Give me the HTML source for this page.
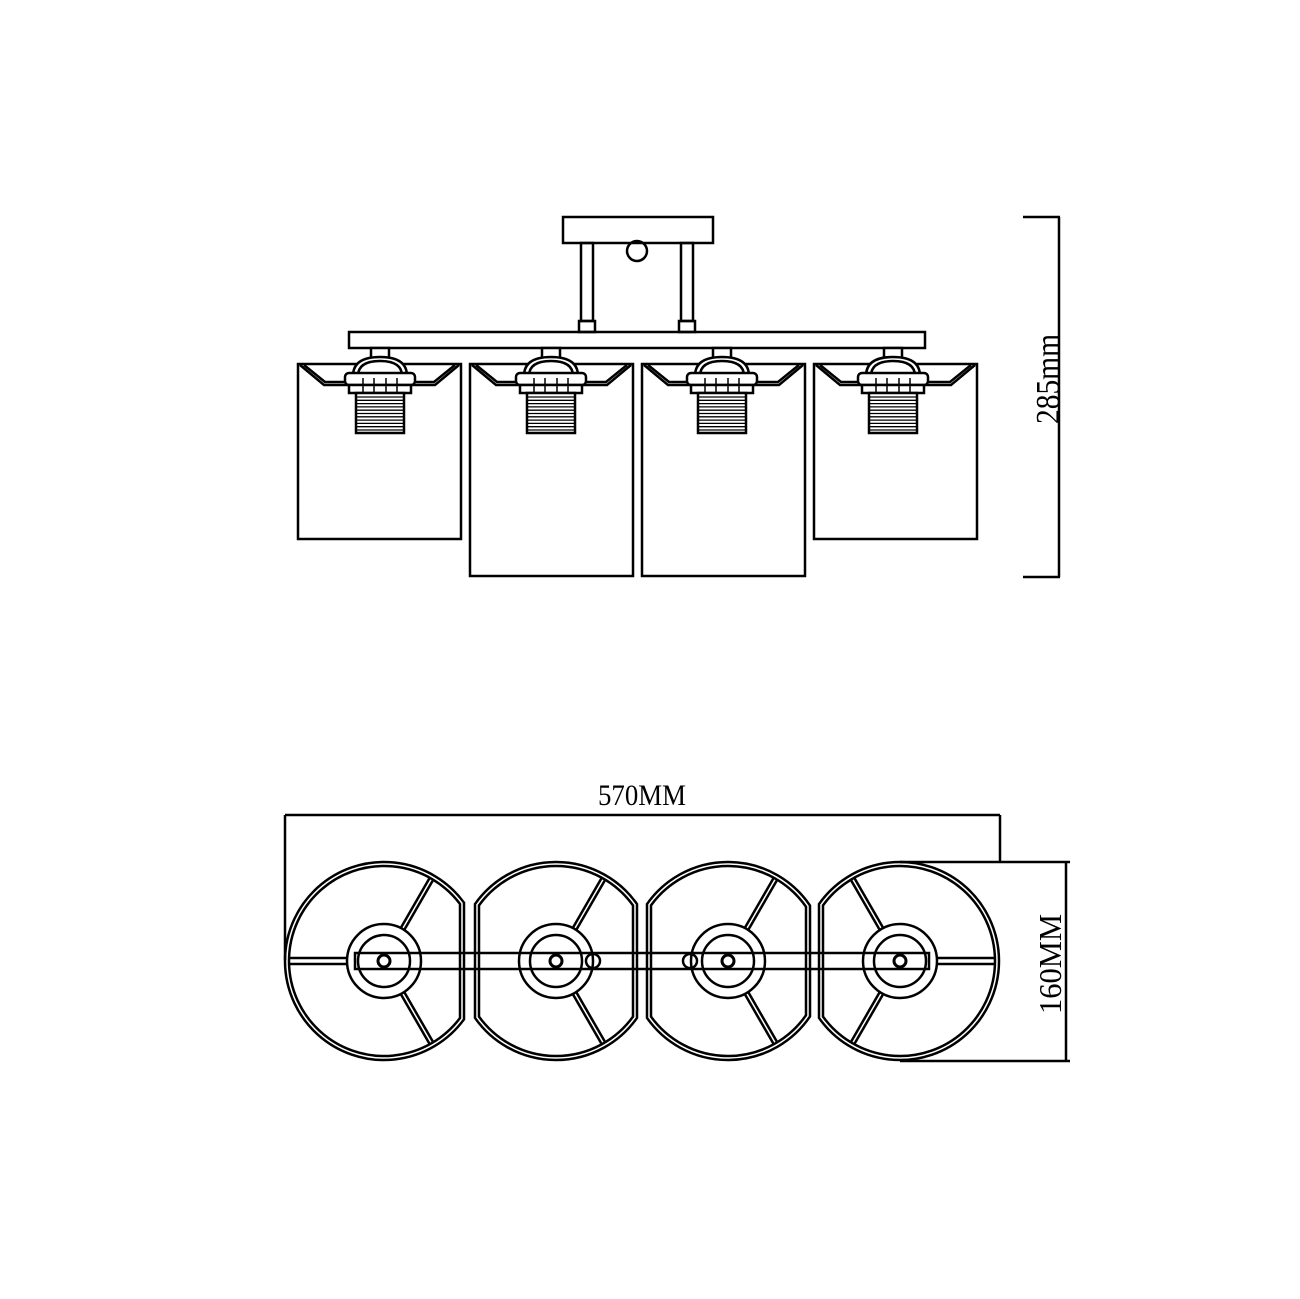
<!DOCTYPE html>
<html><head><meta charset="utf-8"><style>
html,body{margin:0;padding:0;background:#fff}
svg{display:block}
text{font-family:"Liberation Serif",serif;fill:#000}
</style></head><body>
<svg id="s" width="1300" height="1299" viewBox="0 0 1300 1299" xmlns="http://www.w3.org/2000/svg" fill="none" stroke="#000" stroke-width="2.5">
<rect x="563" y="217" width="150" height="26"/>
<rect x="581" y="243" width="12" height="78"/>
<rect x="681" y="243" width="12" height="78"/>
<rect x="579" y="321" width="16" height="11"/>
<rect x="679" y="321" width="16" height="11"/>
<circle cx="637" cy="251" r="10"/>
<rect x="349" y="332" width="576" height="16"/>
<g id="shades"></g>
<line x1="1023" y1="217" x2="1060" y2="217"/>
<line x1="1023" y1="577" x2="1060" y2="577"/>
<line x1="1059" y1="217" x2="1059" y2="577"/>
<text x="0" y="0" font-size="34" stroke="none" transform="translate(1059,424) rotate(-90)" textLength="90" lengthAdjust="spacingAndGlyphs">285mm</text>
<text x="598" y="805" font-size="30" stroke="none" textLength="88" lengthAdjust="spacingAndGlyphs">570MM</text>
<line x1="285" y1="815" x2="1000" y2="815"/>
<line x1="285" y1="815" x2="285" y2="960"/>
<line x1="1000" y1="815" x2="1000" y2="862"/>
<line x1="900" y1="862" x2="1070" y2="862"/>
<line x1="900" y1="1061" x2="1070" y2="1061"/>
<line x1="1066" y1="862" x2="1066" y2="1061"/>
<text x="0" y="0" font-size="32" stroke="none" transform="translate(1061,1014) rotate(-90)" textLength="100" lengthAdjust="spacingAndGlyphs">160MM</text>
<g id="circs"></g>
</svg>
<script>
var ns="http://www.w3.org/2000/svg";
function el(p,t,a){var e=document.createElementNS(ns,t);for(var k in a)e.setAttribute(k,a[k]);p.appendChild(e);return e;}
var sh=document.getElementById('shades');
var shades=[[298,539],[470,576],[642,576],[814,539]];
var sc=[380,551,722,893];
shades.forEach(function(s,i){
  var x=s[0],w=163,b=s[1];
  el(sh,'rect',{x:x,y:364,width:w,height:b-364});
  el(sh,'path',{d:'M'+(x+2)+' 365 L'+(x+26)+' 385 L'+(x+w-26)+' 385 L'+(x+w-2)+' 365'});
  el(sh,'path',{d:'M'+(x+6)+' 365 L'+(x+27)+' 382 L'+(x+w-27)+' 382 L'+(x+w-6)+' 365'});
  var c=sc[i];
  el(sh,'rect',{x:c-9,y:348,width:18,height:10,fill:'#fff'});
  el(sh,'path',{d:'M'+(c-27)+' 376 Q'+(c-27)+' 357 '+c+' 357 Q'+(c+27)+' 357 '+(c+27)+' 376',fill:'#fff'});
  el(sh,'path',{d:'M'+(c-22)+' 376 Q'+(c-22)+' 361 '+c+' 361 Q'+(c+22)+' 361 '+(c+22)+' 376'});
  el(sh,'rect',{x:c-35,y:373,width:70,height:12,rx:4,fill:'#fff'});
  el(sh,'rect',{x:c-31,y:385,width:62,height:8,fill:'#fff'});
  el(sh,'rect',{x:c-24,y:393,width:48,height:40,fill:'#fff'});
  for(var y=397;y<433;y+=3.3)el(sh,'line',{x1:c-24,y1:y,x2:c+24,y2:y,'stroke-width':1.3});
  [-17,-6,6,17].forEach(function(d){el(sh,'line',{x1:c+d,y1:378,x2:c+d,y2:393,'stroke-width':1.5});});
});
var cg=document.getElementById('circs');
function fc(cx,cy,r,xl,xr){
  var d;
  if(xl!=null&&xr!=null){
    var dr=Math.sqrt(r*r-(xr-cx)*(xr-cx)),dl=Math.sqrt(r*r-(cx-xl)*(cx-xl));
    d='M'+xr+' '+(cy-dr)+' L'+xr+' '+(cy+dr)+' A'+r+' '+r+' 0 0 1 '+xl+' '+(cy+dl)+' L'+xl+' '+(cy-dl)+' A'+r+' '+r+' 0 0 1 '+xr+' '+(cy-dr)+'Z';
  }else if(xr!=null){
    var dr=Math.sqrt(r*r-(xr-cx)*(xr-cx));
    d='M'+xr+' '+(cy-dr)+' L'+xr+' '+(cy+dr)+' A'+r+' '+r+' 0 1 1 '+xr+' '+(cy-dr)+'Z';
  }else{
    var dl=Math.sqrt(r*r-(cx-xl)*(cx-xl));
    d='M'+xl+' '+(cy+dl)+' L'+xl+' '+(cy-dl)+' A'+r+' '+r+' 0 1 1 '+xl+' '+(cy+dl)+'Z';
  }
  el(cg,'path',{d:d});
}
var cs=[[384,null,464,1],[556,475,637,1],[728,647,810,1],[900,819,null,-1]];
var cy=961;
cs.forEach(function(c){
  var cx=c[0];
  fc(cx,cy,99,c[1],c[2]);
  fc(cx,cy,95,c[1]!=null?c[1]+4:null,c[2]!=null?c[2]-4:null);
  var s=c[3];
  [-60,60].forEach(function(a){
    var ang=a*Math.PI/180;
    for(var o=-2;o<=2;o+=4){
      var px=-Math.sin(ang)*o,py=Math.cos(ang)*o;
      el(cg,'line',{x1:cx+s*37*Math.cos(ang)+px*s,y1:cy+37*Math.sin(ang)+py,x2:cx+s*95*Math.cos(ang)+px*s,y2:cy+95*Math.sin(ang)+py});
    }
  });
  el(cg,'circle',{cx:cx,cy:cy,r:37,fill:'#fff'});
  el(cg,'circle',{cx:cx,cy:cy,r:26});
});
[[289,347],[937,996]].forEach(function(p){
  el(cg,'line',{x1:p[0],y1:958,x2:p[1],y2:958});
  el(cg,'line',{x1:p[0],y1:964,x2:p[1],y2:964});
});
el(cg,'rect',{x:355,y:953,width:574,height:16});
cs.forEach(function(c){el(cg,'circle',{cx:c[0],cy:cy,r:6,'stroke-width':3});});
el(cg,'circle',{cx:593,cy:cy,r:7});
el(cg,'circle',{cx:690,cy:cy,r:7});
</script>
</body></html>
